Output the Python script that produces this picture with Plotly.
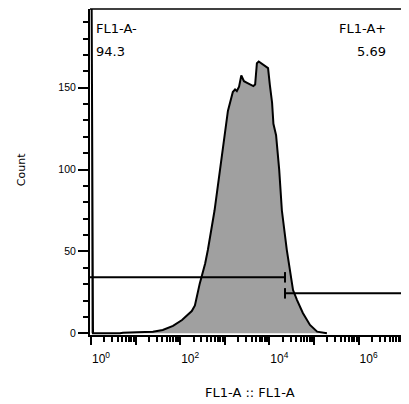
import plotly.graph_objects as go

# Histogram of FL1-A (intensity on log scale) vs event count
fl1_intensity = [1, 1.11, 4.5, 5.2, 10.7, 24.5, 40.7, 69, 110, 141, 182, 214, 275, 363, 417,
                 589, 776, 1000, 1175, 1514, 1698, 1862, 2089, 2344, 2692, 3162, 3890, 4365,
                 4786, 5248, 5754, 6761, 7943, 9333, 10233, 11482, 12303, 14125, 16596, 19055,
                 24547, 28840, 33884, 41687, 56234, 81283, 117490, 194984]
counts = [300, 0, 0, 0.3, 0.6, 1.0, 2.0, 4.5, 8.1, 11, 13.6, 17, 30.5, 42.7, 50.9,
          75, 99.8, 122, 135.8, 147.4, 149, 148, 150.6, 157.5, 154, 153, 151.5, 151,
          152, 165, 166, 164.5, 163.5, 162, 151.7, 141, 128, 121, 99.8, 75,
          51, 38.7, 26.4, 20.3, 12.4, 5.1, 1.0, 0]

# Gates
gate_names = ["FL1-A-", "FL1-A+"]
gate_pcts = ["94.3", "5.69"]
gate_x = [[0.9, 22400], [22400, 1e8]]
gate_y = [34.2, 24.4]

# Axes ticks
x_major = [1, 10, 100, 1e3, 1e4, 1e5, 1e6, 1e7]
x_major_text = ["10<sup>0</sup>", "", "10<sup>2</sup>", "", "10<sup>4</sup>", "", "10<sup>6</sup>", ""]
x_minor = [m * 10 ** d for d in range(-1, 8) for m in range(2, 10)]
y_major = [0, 50, 100, 150]
y_minor = [10, 20, 30, 40, 60, 70, 80, 90, 110, 120, 130, 140, 160, 170, 180, 190]

fig = go.Figure()
fig.add_trace(go.Scatter(
    x=fl1_intensity, y=counts, mode="lines",
    line=dict(color="black", width=2), fill="tozeroy", fillcolor="#a0a0a0",
    hoverinfo="skip", showlegend=False))

cap = 3.2
for i, (xs, yv) in enumerate(zip(gate_x, gate_y)):
    fig.add_trace(go.Scatter(x=xs, y=[yv, yv], mode="lines",
                             line=dict(color="black", width=2), showlegend=False))
    cx = xs[1] if i == 0 else xs[0]
    fig.add_trace(go.Scatter(x=[cx, cx], y=[yv - cap, yv + cap], mode="lines",
                             line=dict(color="black", width=2), showlegend=False))

txt_font = dict(family="DejaVu Sans", size=13, color="black")
fig.add_annotation(xref="paper", yref="paper", x=0.013, y=0.94, text=gate_names[0],
                   showarrow=False, xanchor="left", yanchor="middle", font=txt_font)
fig.add_annotation(xref="paper", yref="paper", x=0.013, y=0.871, text=gate_pcts[0],
                   showarrow=False, xanchor="left", yanchor="middle", font=txt_font)
fig.add_annotation(xref="paper", yref="paper", x=0.934, y=0.94, text=gate_names[1],
                   showarrow=False, xanchor="right", yanchor="middle", font=txt_font)
fig.add_annotation(xref="paper", yref="paper", x=0.934, y=0.871, text=gate_pcts[1],
                   showarrow=False, xanchor="right", yanchor="middle", font=txt_font)

fig.add_annotation(xref="paper", yref="paper", x=0.5, y=-0.175, text="FL1-A :: FL1-A",
                   showarrow=False, xanchor="center", yanchor="middle",
                   font=dict(family="DejaVu Sans", size=13, color="black"))
fig.add_annotation(xref="paper", yref="paper", x=-0.216, y=0.506, text="Count",
                   showarrow=False, textangle=-90, xanchor="center", yanchor="middle",
                   font=dict(family="DejaVu Sans", size=11, color="black"))

fig.add_shape(type="line", xref="paper", yref="paper", x0=0, x1=1, y0=1, y1=1,
              line=dict(color="black", width=1.5))

fig.update_xaxes(type="log", range=[-0.022, 7.13], showgrid=False, zeroline=False,
                 showline=True, linecolor="black", linewidth=2,
                 tickmode="array", tickvals=x_major, ticktext=x_major_text,
                 ticks="outside", ticklen=8, tickwidth=2, tickcolor="black",
                 ticklabelshift=10, ticklabelstandoff=4,
                 tickfont=dict(family="Liberation Sans", size=12, color="black"),
                 minor=dict(tickmode="array", tickvals=x_minor, ticks="outside",
                            ticklen=5, tickwidth=1.5, tickcolor="black", showgrid=False))
fig.update_yaxes(range=[-1.04, 198.1], showgrid=False, zeroline=False,
                 showline=True, linecolor="black", linewidth=2,
                 tickmode="array", tickvals=y_major,
                 ticks="outside", ticklen=10, tickwidth=2, tickcolor="black",
                 tickfont=dict(family="Liberation Sans", size=10.5, color="black"),
                 minor=dict(tickmode="array", tickvals=y_minor, ticks="outside",
                            ticklen=5, tickwidth=1.5, tickcolor="black", showgrid=False))

# page has an 8px body margin, so the figure is sized/offset to compensate
fig.update_layout(width=401, height=396, margin=dict(l=82, r=0, t=1, b=69),
                  paper_bgcolor="white", plot_bgcolor="white", showlegend=False)

fig.write_html("out.html")
